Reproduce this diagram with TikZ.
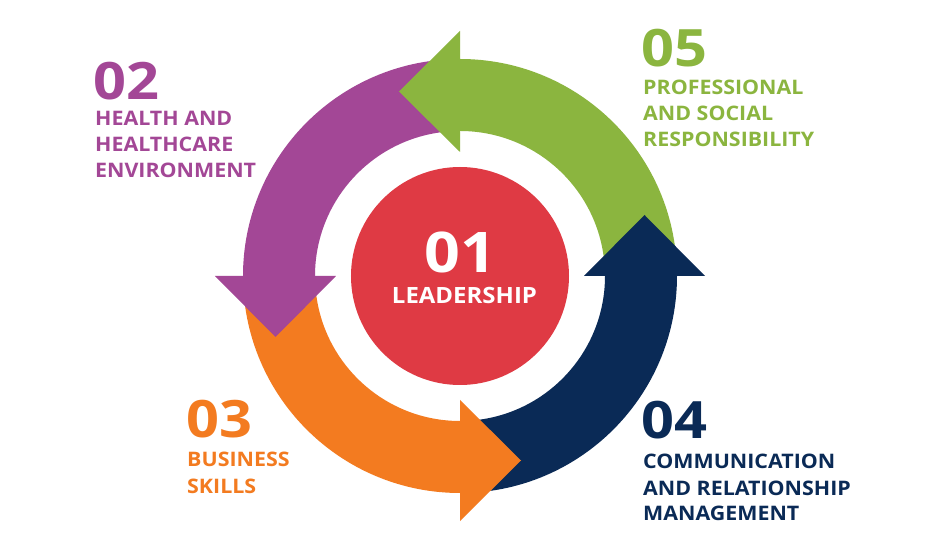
\documentclass[tikz,border=0pt]{standalone}
\usepackage{fontspec}
\setmainfont{Open Sans}[FakeStretch=1.07]
\newfontfamily\numfam{Open Sans}[FakeStretch=1.12]
\definecolor{cpurple}{HTML}{A34796}
\definecolor{cgreen}{HTML}{8BB53F}
\definecolor{corange}{HTML}{F37B20}
\definecolor{cnavy}{HTML}{0A2A56}
\definecolor{cred}{HTML}{DF3A44}
\newcommand\labfont{\bfseries\fontsize{20}{24}\selectfont}
\newcommand\numfont{\numfam\bfseries\fontsize{51.5}{56}\selectfont}
\begin{document}
\begin{tikzpicture}[x=1pt,y=1pt,
  lbl/.style={anchor=base west, inner sep=0pt, font=\labfont},
  num/.style={anchor=base west, inner sep=0pt, font=\numfont}]
\useasboundingbox[fill=white] (-460,-258) rectangle (489,276);
% bodies
\fill[cgreen] (4:145) arc[start angle=4, end angle=90, radius=145] -- (90:217) arc[start angle=90, end angle=4, radius=217] -- cycle;
\fill[cpurple] (94:145) arc[start angle=94, end angle=180, radius=145] -- (180:217) arc[start angle=180, end angle=94, radius=217] -- cycle;
\fill[corange] (184:145) arc[start angle=184, end angle=270, radius=145] -- (270:217) arc[start angle=270, end angle=184, radius=217] -- cycle;
\fill[cnavy] (274:145) arc[start angle=274, end angle=360, radius=145] -- (360:217) arc[start angle=360, end angle=274, radius=217] -- cycle;
% heads
\fill[cgreen] (0,124) -- (0,245) -- (-61,184.5) -- cycle;
\fill[cpurple] (-124,0) -- (-245,0) -- (-184.5,-61) -- cycle;
\fill[corange] (0,-124) -- (0,-245) -- (61,-184.5) -- cycle;
\fill[cnavy] (124,0) -- (245,0) -- (184.5,61) -- cycle;
% centre
\node[circle, fill=cred, minimum size=218pt, inner sep=0pt] (lead) at (0,0) {};
\node[anchor=base, inner sep=0pt, text=white, font=\numfam\bfseries\fontsize{56}{60}\selectfont] (n01) at (0,3) {01};
\node[anchor=base, inner sep=0pt, text=white, font=\bfseries\fontsize{22.4}{26}\selectfont] (t01) at (4.5,-28) {LEADERSHIP};
% 02
\node[num, text=cpurple] (n02) at (-367,176) {02};
\node[lbl, text=cpurple] (t02a) at (-365,150) {HEALTH AND};
\node[lbl, text=cpurple] (t02b) at (-365,124.3) {HEALTHCARE};
\node[lbl, text=cpurple] (t02c) at (-365,98.3) {ENVIRONMENT};
% 05
\node[num, text=cgreen] (n05) at (181,209) {05};
\node[lbl, text=cgreen] (t05a) at (183,181.5) {PROFESSIONAL};
\node[lbl, text=cgreen] (t05b) at (183,155.5) {AND SOCIAL};
\node[lbl, text=cgreen] (t05c) at (183,129) {RESPONSIBILITY};
% 03
\node[num, text=corange] (n03) at (-274,-162) {03};
\node[lbl, text=corange] (t03a) at (-273,-190) {BUSINESS};
\node[lbl, text=corange] (t03b) at (-273,-217) {SKILLS};
% 04
\node[num, text=cnavy] (n04) at (181,-163) {04};
\node[lbl, text=cnavy] (t04a) at (183,-193) {COMMUNICATION};
\node[lbl, text=cnavy] (t04b) at (183,-219) {AND RELATIONSHIP};
\node[lbl, text=cnavy] (t04c) at (183,-244) {MANAGEMENT};
\end{tikzpicture}
\end{document}
